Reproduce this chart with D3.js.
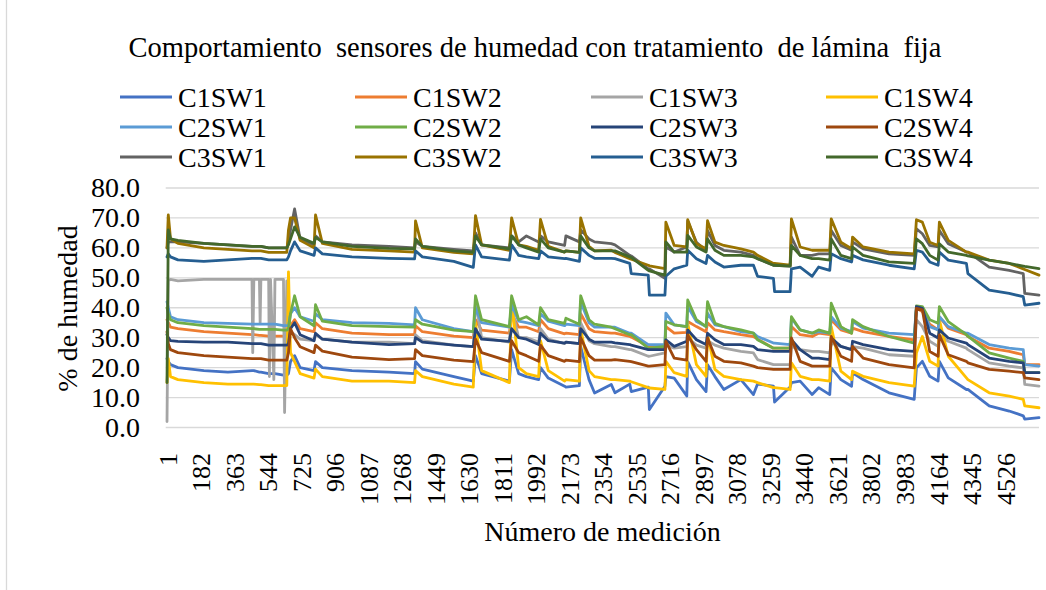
<!DOCTYPE html>
<html><head><meta charset="utf-8">
<script src="https://cdn.jsdelivr.net/npm/d3@7"></script>
<style>
html,body{margin:0;padding:0;background:#fff;}
svg{display:block;}
text{font-family:"Liberation Serif","Times New Roman",serif;fill:#000;}
</style>
</head><body>
<svg id="c" width="1046" height="590"></svg>
<script>
const measure = [1,8,20,60,200,330,460,464,470,500,
 504,508,550,554,560,578,584,630,636,648,
 657,668,690,720,795,803,840,1000,1200,1338,
 1343,1380,1550,1655,1667,1700,1850,1862,1900,1942,
 2008,2018,2060,2148,2155,2228,2235,2280,2310,2400,
 2420,2500,2508,2600,2606,2690,2695,2740,2808,2813,
 2860,2912,2920,2960,3008,3100,3168,3190,3276,3282,
 3366,3373,3420,3485,3520,3580,3588,3640,3698,3703,
 3760,3900,4036,4048,4080,4120,4165,4172,4220,4318,
 4326,4441,4549,4625,4633,4710];

const seriesNames = ["C1SW1","C1SW2","C1SW3","C1SW4","C2SW1","C2SW2","C2SW3","C2SW4","C3SW1","C3SW2","C3SW3","C3SW4"];
const seriesColors = ["#4472C4","#ED7D31","#A5A5A5","#FFC000","#5B9BD5","#70AD47","#264478","#9E480E","#636363","#997300","#255E91","#43682B"];
const yTicks = [0,10,20,30,40,50,60,70,80];
const xTickLabels = [1,182,363,544,725,906,1087,1268,1449,1630,1811,1992,2173,2354,2535,2716,2897,3078,3259,3440,3621,3802,3983,4164,4345,4526];

const c1sw1 = [23,22,21,20,19,18.5,19,19,19,18.5,
 18.5,18.5,18,18,18,18,18,17.5,17.5,17.5,
 18,22,24,20,19,22,20,19,18.5,18,
 22,19.5,17,15.5,24,18,15.5,26,18,17,
 16,20,16.5,13.8,13.5,14,27,16,11.5,14.4,
 11.6,14.5,12,13.5,6,13.8,17,16.5,10.5,22,
 16,12,21,17,12.7,16,11,14.5,13.8,8.5,
 13.5,15,15.5,11,13.3,11,19.9,16,13.8,18.3,
 16,11.6,9.4,19.9,22.1,17.1,15.5,22.1,16.6,12.7,
 12.7,7.2,5.5,3.9,2.8,3.3];
const c1sw2 = [36,35,33.5,33,32,31.5,31,31,31,30.8,
 30.8,30.8,30.5,30.5,30.5,30.5,30.5,30.5,30.5,30.5,
 31,34,36,33,32,35,33,31.5,31,31,
 34,32,30.5,30,36,32.5,31.5,38,33.5,33.5,
 32,36,33,31.3,31.5,31,38,33,32,31.5,
 31.5,30.4,30.2,27.1,26.8,26.5,33.7,31.5,31.8,35.4,
 33.7,32,35,32.6,32,31,30.4,29.5,26.5,26.5,
 26.5,33.7,31,30.4,31.5,31,36,32.6,31.5,33.2,
 32,30.4,29.3,39.8,38.7,34.5,32.6,37,33.2,31,
 30.4,26.5,25.4,24.3,21,21];
const c1sw3 = [2,49,49.5,49,49.5,49.5,49.5,25,49.5,49.5,
 35,49.5,49.5,17,49.5,16,49.5,49.5,5,49,
 30,32,31,29.5,29,31,29.5,28.5,28.5,28,
 31,29,27.5,27,42,30,28.5,40,30,30,
 28.5,33,29.5,28,28.5,28,35,29,28,27,
 27,26,26,23.8,23.8,24.9,27.5,26.5,27,30,
 27.5,26.5,29,27.5,26.5,25.4,24.9,22.7,21,21,
 21,27.1,26,25.4,25.4,24.9,28.2,27.1,26,27,
 26.5,24.3,23.8,36,33.7,28.8,27.1,30.9,28.8,26.5,
 26,21.6,20.5,19.9,14.4,13.8];
const c1sw4 = [15,23,17,16,15,14.5,14.5,14.5,14.5,14.3,
 14.3,14.3,14,14,14,14,14,14,14,14,
 52,25,22,18,16.5,19.5,17,15.5,15.5,15,
 19,17,14.5,13.5,35,19,15,43,20,18,
 17,29,19,15.5,16,15.5,33,19,17,16,
 16,15.5,15.3,13.3,13.2,12.7,22.1,18.3,17.1,34.8,
 21,17.1,31,19.4,17.1,16,15.5,15,13.3,13.3,
 12.7,21.6,17.1,16,16,15.5,33.7,18.8,16,18.8,
 17.1,15,13.8,24.9,30.4,22.1,20.5,36,23.8,16.6,
 16,11.6,10.5,9.4,7.2,6.6];
const c2sw1 = [42,40,37,36,35,34.8,34.5,34.5,34.5,34.5,
 34.5,34.5,34.5,34.5,34.5,34.5,34.5,34,34,34,
 34,38,40,37,35.5,38,36,35,34.8,34.3,
 40,36,33,32,40,35,33.5,41,35.5,35,
 34,38,35.5,34,34.5,34,42,35,33.5,33.5,
 33.5,31.5,31.5,27.7,27.7,27.7,38.2,34.3,33.7,40.4,
 35.4,33.7,38.2,34.3,33.7,32,31.5,30.4,28.2,28.2,
 27.7,36.5,32.6,31.5,32,31.5,37,33.2,32,35.4,
 33.2,31.5,31,39.8,39.3,33.7,32.6,37,33.7,31.5,
 31.5,27.7,26.5,26,21,20.5];
const c2sw2 = [40,38,36,35,34,33.5,33,33,33,32.8,
 32.8,32.8,32.8,32.8,32.8,32.8,32.8,32.5,32.5,32.5,
 33,38,44,37,34,41,35.5,34,33.7,33.5,
 36,34.5,32.5,32,44,36,33.7,44,36,37,
 34.3,40,36,34.8,36.5,34.5,44,36,34.5,33.5,
 33,31,31,26.5,26.5,27.1,35.4,34.3,33.7,42.6,
 36,33.7,42,34.8,33.7,32.6,31.5,29.3,26.5,26.5,
 26.5,37,32.6,31.5,32.6,31.5,41.5,33.7,31.5,36,
 33.7,30.4,28.2,40.6,40.4,36,34.8,40.4,35.4,31,
 30.5,24.9,23.2,22.1,18.3,18.3];
const c2sw3 = [31,30,29,28.8,28.5,28.5,28,28,28,28,
 28,28,27.5,27.5,27.5,27.5,27.5,27.5,27.5,27.5,
 28,33,35,31,29,31.5,29.5,28.5,27.7,28,
 30,28.5,27.5,27,33,29.5,28.8,33,30,29.5,
 27.7,31.5,29,28.2,28.5,28,33,29.5,28.5,28.5,
 28.3,27.7,27.5,26,26,26,29.3,27.1,28.8,32.6,
 29.3,27.7,31.5,29.3,27.7,27.7,27.1,26,25.4,25.4,
 25.4,29.3,26,23.2,23.2,22.7,29.9,27.1,26,28.8,
 27.7,26,25.4,40.4,39.8,31.5,29.9,32.6,29.9,28.2,
 27.7,23.2,22.1,21.6,18.3,18.3];
const c2sw4 = [32,28,26,25,24,23.5,23,23,23,23,
 23,23,22.5,22.5,22.5,22.5,22.5,22.5,22.5,22.5,
 25,33,30,27,25,27.5,25.5,23.5,22.7,23,
 26,24,22.5,22,29.5,25,22.1,29,25,24,
 22.1,27.5,24,22.1,22.5,22,30,24,22.5,22.5,
 22.7,22.1,22,20.5,20.5,21,28.8,23.2,22.5,30.9,
 26,22.1,29.9,23.8,22.1,21.6,20.5,20,19.4,19.4,
 19.4,29.9,22.1,20.5,20.5,20.5,30.4,23.8,22.1,27.1,
 23.2,21,19.9,39.8,39.3,25.4,23.8,30.9,24.3,22.1,
 21.6,19.4,18.8,18.3,16.6,16];
const c3sw1 = [60,62,62,62,61.5,61,60.5,60.5,60.5,60.5,
 60.5,60.5,60,60,60,60,60,60,60,60,
 62,66,73,63,61,64,62,61,60.5,60,
 62,60.5,59.5,59,65,61,60,64,62,64,
 62,64,62,60.8,64,62,66,63,62,61.4,
 61,57.5,57.3,53,53,49.8,60.3,58.6,60.3,69,
 61.9,59,65.8,60.8,59.2,58.6,57.5,56.4,54.2,54.2,
 53.9,63.6,57.5,57.5,58,58,65.8,60.8,59.2,62,
 59.7,58,57.5,66.4,64.7,60.8,60.3,65.8,61.4,58.6,
 58.6,53.6,52.5,51.4,44.8,44.2];
const c3sw2 = [60,71,63,61.5,60,59.5,59,59,59,59,
 59,59,58.5,58.5,58.5,58.5,58.5,58.5,58.5,58.5,
 66,70,70,62.5,60,71,61.5,59.5,59,58.6,
 69,60,58.5,58,70.8,61,59.2,70,61,60.5,
 59.2,69.5,60.5,58.6,59,58.5,70,60.5,59,59.2,
 58.5,56.4,56.2,54.2,54,53.1,68.6,60.8,60.3,69.4,
 61.4,59.7,69.1,61.9,60.8,59.7,58.6,57.5,54.8,54.8,
 54.2,69.7,60.3,59.2,59.2,59.2,69.7,61.9,59.7,63.6,
 60.3,58.6,58,69.4,68.6,61.9,60.8,68.6,62.5,58.6,
 58.6,55.9,54.8,53,52.8,50.9];
const c3sw3 = [57,58,57,56,55.5,56,56.5,56.5,56.5,56.5,
 56.5,56.5,56,56,56,56,56,56,56,56,
 57,59,62,59,57.5,60,58,57,56.5,56.3,
 59,57,55.5,53.5,61,57,55.9,61,57.5,57,
 56.4,59,57,56.4,56.5,55.5,60,57.5,56.5,56.5,
 56.4,54.8,51.4,50.9,44.2,44.2,50.5,53,54.2,59.2,
 56.4,54.8,57.5,55.3,53.6,54.2,54.2,50.5,49.8,45.4,
 45.4,53,53.6,50.5,53.6,52.5,58,56.4,55.3,57.5,
 56,54.2,53,59.2,58.6,55.3,54.2,58.6,55.9,54.8,
 51.4,45.9,44.8,43.7,40.9,41.5];
const c3sw4 = [15,66,63,62.5,61.5,61,60.5,60.5,60.5,60.5,
 60.5,60.5,60,60,60,60,60,60,60,60,
 61,63,67,63.5,61.5,63.5,62,60.5,59.8,59.7,
 63,60.5,59,58.5,64,61,59.7,64,61,60,
 58.6,63,60,58.6,59,58.5,64,60,59,59,
 59,57,56.8,52.5,52.3,50.9,62,58.6,58.6,64.2,
 60.3,58.6,63,59.2,57.5,57.5,57,56.4,54.2,54.2,
 53.9,60.8,57.5,56.4,56.4,55.9,63,57.5,56.4,60.3,
 57.5,55.3,54.8,63,61.4,57.5,55.9,61.4,58.6,57.5,
 57.3,55.9,54.8,53.9,53.8,53.1];

const seriesValues = [c1sw1,c1sw2,c1sw3,c1sw4,c2sw1,c2sw2,c2sw3,c2sw4,c3sw1,c3sw2,c3sw3,c3sw4];

const svg = d3.select('#c');
const plotLeft = 165.7, plotRight = 1039;
const x = d3.scaleLinear().domain([1, 4710]).range([167, 1039]);
const y = d3.scaleLinear().domain([0, 80]).range([427.5, 188]);

// chart border (left edge visible)
svg.append('line').attr('x1',6.5).attr('x2',6.5).attr('y1',0).attr('y2',590)
  .attr('stroke','#d9d9d9').attr('stroke-width',1.3);

// gridlines
svg.append('g').selectAll('line').data(yTicks).join('line')
  .attr('x1',plotLeft).attr('x2',plotRight)
  .attr('y1',d=>y(d)).attr('y2',d=>y(d))
  .attr('stroke','#d9d9d9').attr('stroke-width',1.3);

// y axis
const yAxis = svg.append('g').attr('transform','translate(140,0)')
  .call(d3.axisLeft(y).tickValues(yTicks).tickFormat(d3.format('.1f')).tickSize(0).tickPadding(0));
yAxis.select('.domain').remove();
yAxis.selectAll('text').attr('font-size',28).attr('font-family','"Liberation Serif", serif').attr('dy','0.32em').attr('fill','#000');

// x axis
const xAxis = svg.append('g').attr('transform','translate(0,453)')
  .call(d3.axisBottom(x).tickValues(xTickLabels).tickFormat(d3.format('d')).tickSize(0));
xAxis.select('.domain').remove();
xAxis.selectAll('text').attr('x',0).attr('y',0).attr('dy','0.35em')
  .attr('transform','rotate(-90)').style('text-anchor','end')
  .attr('font-size',26).attr('font-family','"Liberation Serif", serif').attr('fill','#000');

// lines
const line = d3.line().x((d,i)=>x(measure[i])).y(d=>y(d)).curve(d3.curveLinear);
svg.append('g').selectAll('path').data(seriesValues).join('path')
  .attr('d', d=>line(d)).attr('fill','none')
  .attr('stroke',(d,i)=>seriesColors[i]).attr('stroke-width',2.8)
  .attr('stroke-linejoin','round').attr('stroke-linecap','round');

// title
svg.append('text').attr('x',535).attr('y',57).attr('text-anchor','middle')
  .attr('font-size',28.5).style('white-space','pre')
  .text('Comportamiento  sensores de humedad con tratamiento  de lámina  fija');

// axis titles
svg.append('text').attr('x',602.5).attr('y',541).attr('text-anchor','middle')
  .attr('font-size',28).text('Número de medición');
svg.append('text').attr('transform','translate(77,308.5) rotate(-90)').attr('text-anchor','middle')
  .attr('font-size',28).text('% de humedad');

// legend
const legX = [120,355,591,826];
const legY = [97,127,157];
const leg = svg.append('g').selectAll('g').data(seriesNames).join('g')
  .attr('transform',(d,i)=>`translate(${legX[i%4]},${legY[Math.floor(i/4)]})`);
leg.append('line').attr('x1',0).attr('x2',52).attr('y1',0).attr('y2',0)
  .attr('stroke',(d,i)=>seriesColors[i]).attr('stroke-width',3);
leg.append('text').attr('x',58).attr('y',9.7).attr('font-size',28).text(d=>d);
</script>
</body></html>
